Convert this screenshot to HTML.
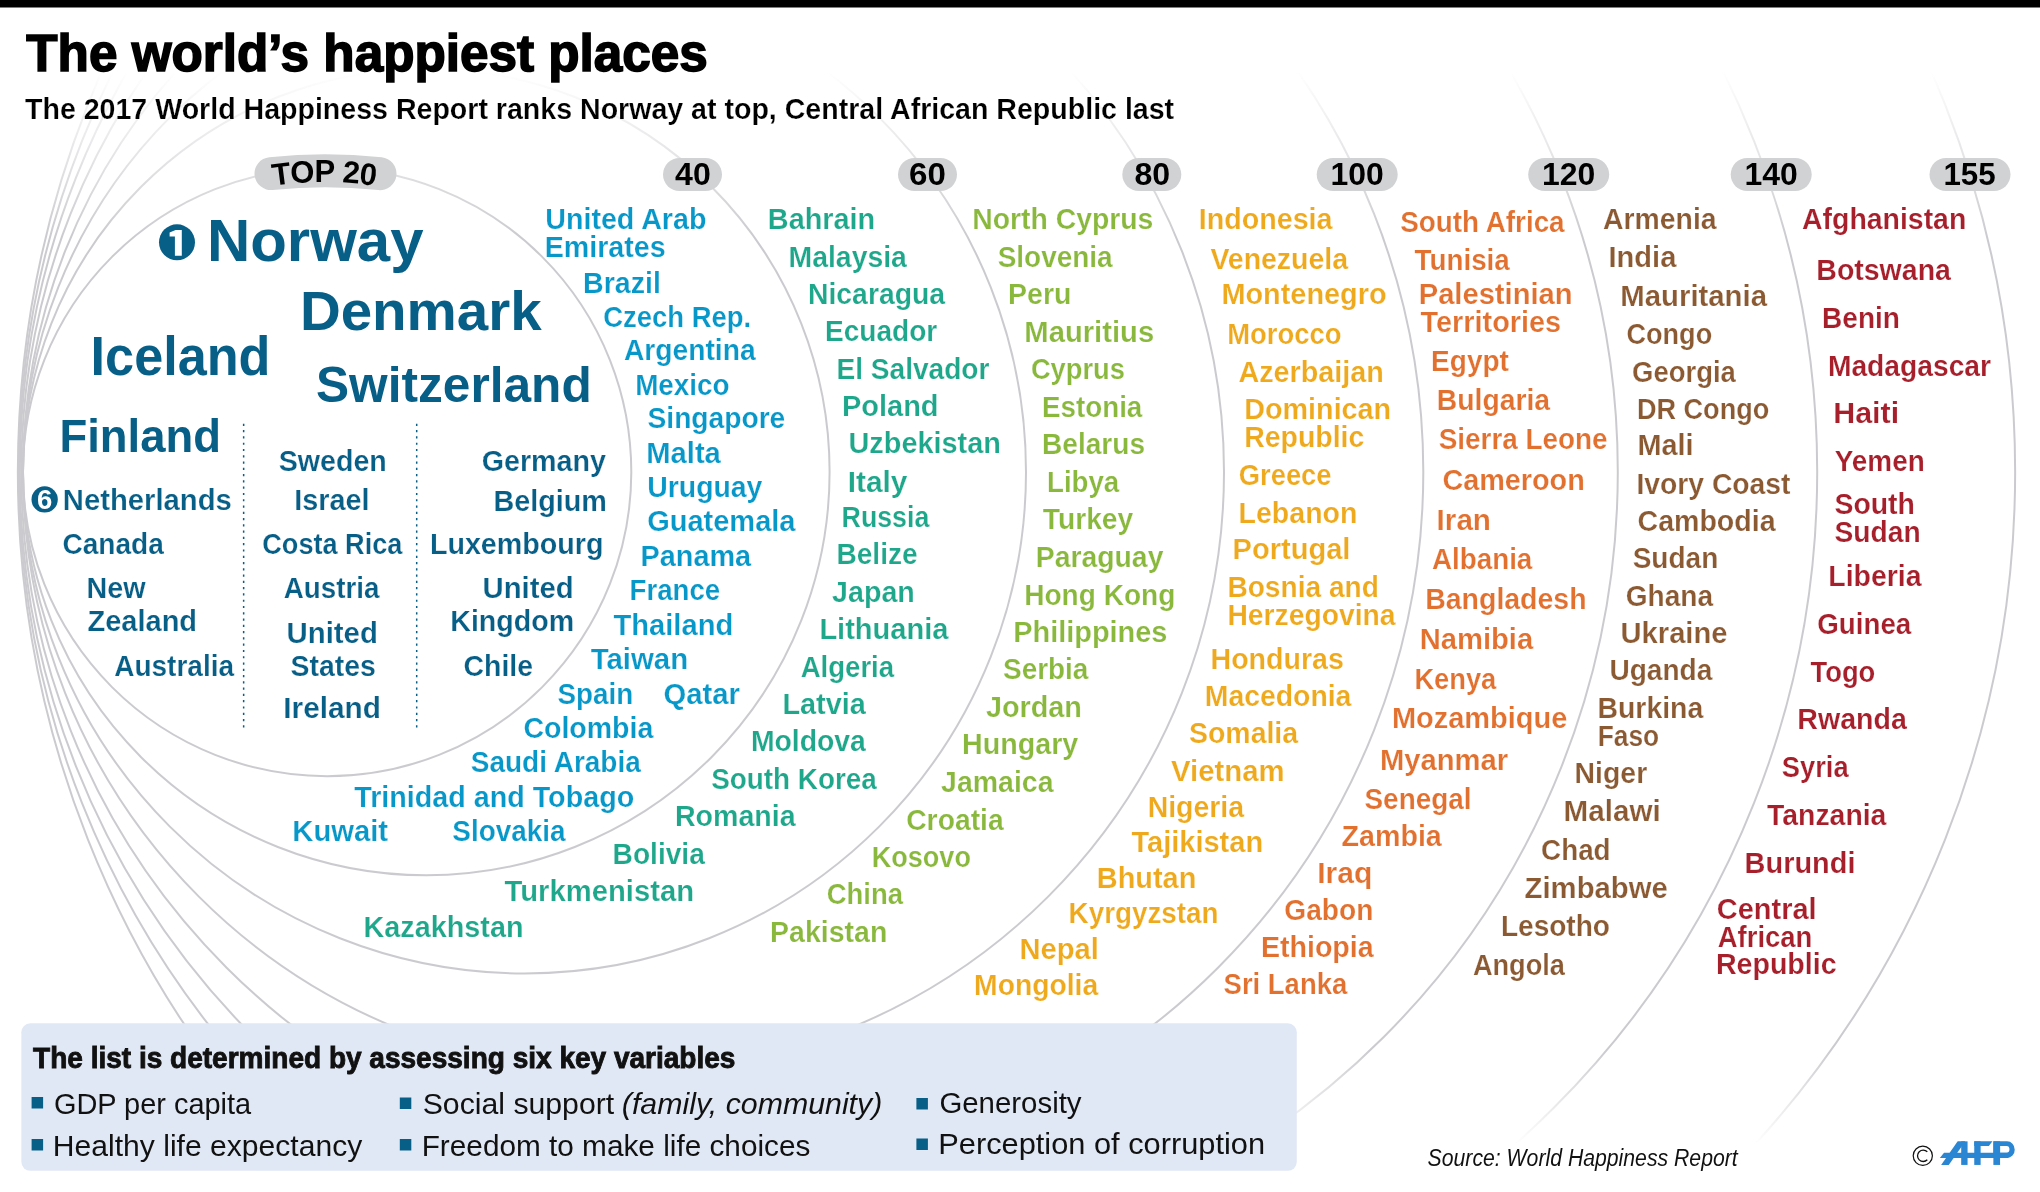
<!DOCTYPE html>
<html><head><meta charset="utf-8"><style>
html,body{margin:0;padding:0;background:#fff;}
svg{display:block;font-family:"Liberation Sans", sans-serif;will-change:transform;}
text.e{stroke:#fff;stroke-width:0.2px;}
</style></head><body>
<svg width="2040" height="1192" viewBox="0 0 2040 1192">
<defs>
<linearGradient id="fade" gradientUnits="userSpaceOnUse" x1="0" y1="0" x2="0" y2="1192">
<stop offset="0.06" stop-color="#cbcbcf" stop-opacity="0"/>
<stop offset="0.2" stop-color="#cbcbcf" stop-opacity="1"/>
<stop offset="0.88" stop-color="#cbcbcf" stop-opacity="1"/>
<stop offset="0.96" stop-color="#cbcbcf" stop-opacity="0"/>
</linearGradient>
</defs>
<rect x="0" y="0" width="2040" height="7.5" fill="#000"/>
<g fill="none" stroke="url(#fade)" stroke-width="2">
<circle cx="327.1" cy="472" r="304.2" />
<circle cx="426.3" cy="472" r="403.3" />
<circle cx="524.5" cy="472" r="501.5" />
<circle cx="623.5" cy="472" r="600.5" />
<circle cx="722.3" cy="472" r="701" />
<circle cx="818.8" cy="472" r="799" />
<circle cx="918.0" cy="472" r="899.2" />
<circle cx="1016.5" cy="472" r="998.65" />
</g>
<line x1="243.65" y1="423.8" x2="243.65" y2="731" stroke="#075e87" stroke-width="1.5" stroke-dasharray="2.2 4.08"/>
<line x1="416.7" y1="423.8" x2="416.7" y2="731" stroke="#075e87" stroke-width="1.5" stroke-dasharray="2.2 4.08"/>
<path d="M271,173.57 A528.5,528.5 0 0 1 380,173.67" fill="none" stroke="#d1d2d4" stroke-width="33" stroke-linecap="round"/>
<path id="tp" d="M223.2,197.84 A330,330 0 0 1 425.2,197.84" fill="none"/>
<text font-size="31" font-weight="bold" fill="#000" text-anchor="middle" letter-spacing="-0.6"><textPath href="#tp" startOffset="50%">TOP 20</textPath></text>
<rect x="663.0" y="158" width="59" height="33" rx="16.5" fill="#d1d2d4"/>
<text x="675.1" y="184.5" font-size="30.52" font-weight="bold" fill="#000" textLength="35.7" lengthAdjust="spacingAndGlyphs">40</text>
<rect x="898.0" y="158" width="59" height="33" rx="16.5" fill="#d1d2d4"/>
<text x="909.1" y="184.5" font-size="30.52" font-weight="bold" fill="#000" textLength="36.8" lengthAdjust="spacingAndGlyphs">60</text>
<rect x="1122.3" y="158" width="59" height="33" rx="16.5" fill="#d1d2d4"/>
<text x="1134.5" y="184.5" font-size="30.52" font-weight="bold" fill="#000" textLength="35.7" lengthAdjust="spacingAndGlyphs">80</text>
<rect x="1316.7" y="158" width="81" height="33" rx="16.5" fill="#d1d2d4"/>
<text x="1330.6" y="184.5" font-size="30.52" font-weight="bold" fill="#000" textLength="53.3" lengthAdjust="spacingAndGlyphs">100</text>
<rect x="1528.2" y="158" width="81" height="33" rx="16.5" fill="#d1d2d4"/>
<text x="1542.1" y="184.5" font-size="30.52" font-weight="bold" fill="#000" textLength="53.3" lengthAdjust="spacingAndGlyphs">120</text>
<rect x="1730.7" y="158" width="81" height="33" rx="16.5" fill="#d1d2d4"/>
<text x="1744.6" y="184.5" font-size="30.52" font-weight="bold" fill="#000" textLength="53.3" lengthAdjust="spacingAndGlyphs">140</text>
<rect x="1929.5" y="158" width="81" height="33" rx="16.5" fill="#d1d2d4"/>
<text x="1943.4" y="184.5" font-size="30.52" font-weight="bold" fill="#000" textLength="52.2" lengthAdjust="spacingAndGlyphs">155</text>
<circle cx="177" cy="242.3" r="18" fill="#075e87"/>
<path d="M169.6,232.6 L175.6,229.9 L181.8,229.9 L181.8,255.8 L174.9,255.8 L174.9,236.4 L169.6,236.4 Z" fill="#fff"/>
<circle cx="44.65" cy="499.45" r="13.15" fill="#075e87"/>
<text x="44.65" y="508.7" font-size="27.5" font-weight="bold" fill="#fff" text-anchor="middle">6</text>
<rect x="21.3" y="1023.3" width="1275.5" height="147.5" rx="9" fill="#e1e8f5"/>
<rect x="31.6" y="1097" width="11.5" height="11.5" fill="#075e87"/>
<rect x="31.6" y="1139" width="11.5" height="11.5" fill="#075e87"/>
<rect x="399.8" y="1097.5" width="11.5" height="11.5" fill="#075e87"/>
<rect x="399.8" y="1139" width="11.5" height="11.5" fill="#075e87"/>
<rect x="916.4" y="1098" width="11.5" height="11.5" fill="#075e87"/>
<rect x="916.4" y="1138.5" width="11.5" height="11.5" fill="#075e87"/>
<text x="206.9" y="261.3" font-size="58.58" font-weight="bold" fill="#075e87" textLength="216.6" lengthAdjust="spacingAndGlyphs">Norway</text>
<text x="299.9" y="330.0" font-size="55.23" font-weight="bold" fill="#075e87" textLength="241.8" lengthAdjust="spacingAndGlyphs">Denmark</text>
<text x="90.6" y="375.4" font-size="54.80" font-weight="bold" fill="#075e87" textLength="179.9" lengthAdjust="spacingAndGlyphs">Iceland</text>
<text x="316.0" y="402.0" font-size="49.42" font-weight="bold" fill="#075e87" textLength="275.7" lengthAdjust="spacingAndGlyphs">Switzerland</text>
<text x="59.4" y="451.9" font-size="46.95" font-weight="bold" fill="#075e87" textLength="161.5" lengthAdjust="spacingAndGlyphs">Finland</text>
<text class="e" x="62.8" y="510.2" font-size="30.23" font-weight="bold" fill="#075e87" textLength="169.0" lengthAdjust="spacingAndGlyphs">Netherlands</text>
<text class="e" x="62.4" y="554.1" font-size="30.23" font-weight="bold" fill="#075e87" textLength="101.4" lengthAdjust="spacingAndGlyphs">Canada</text>
<text class="e" x="86.5" y="598.4" font-size="30.23" font-weight="bold" fill="#075e87" textLength="59.1" lengthAdjust="spacingAndGlyphs">New</text>
<text class="e" x="87.5" y="630.6" font-size="30.23" font-weight="bold" fill="#075e87" textLength="109.6" lengthAdjust="spacingAndGlyphs">Zealand</text>
<text class="e" x="114.2" y="675.9" font-size="30.23" font-weight="bold" fill="#075e87" textLength="119.9" lengthAdjust="spacingAndGlyphs">Australia</text>
<text class="e" x="278.7" y="471.0" font-size="30.23" font-weight="bold" fill="#075e87" textLength="108.1" lengthAdjust="spacingAndGlyphs">Sweden</text>
<text class="e" x="294.3" y="510.2" font-size="30.23" font-weight="bold" fill="#075e87" textLength="75.3" lengthAdjust="spacingAndGlyphs">Israel</text>
<text class="e" x="262.3" y="554.1" font-size="30.23" font-weight="bold" fill="#075e87" textLength="140.0" lengthAdjust="spacingAndGlyphs">Costa Rica</text>
<text class="e" x="283.8" y="598.4" font-size="30.23" font-weight="bold" fill="#075e87" textLength="95.6" lengthAdjust="spacingAndGlyphs">Austria</text>
<text class="e" x="286.5" y="643.3" font-size="30.23" font-weight="bold" fill="#075e87" textLength="91.4" lengthAdjust="spacingAndGlyphs">United</text>
<text class="e" x="290.5" y="675.9" font-size="30.23" font-weight="bold" fill="#075e87" textLength="85.3" lengthAdjust="spacingAndGlyphs">States</text>
<text class="e" x="283.3" y="718.4" font-size="30.23" font-weight="bold" fill="#075e87" textLength="97.7" lengthAdjust="spacingAndGlyphs">Ireland</text>
<text class="e" x="481.7" y="471.3" font-size="30.23" font-weight="bold" fill="#075e87" textLength="124.2" lengthAdjust="spacingAndGlyphs">Germany</text>
<text class="e" x="493.4" y="510.6" font-size="30.23" font-weight="bold" fill="#075e87" textLength="113.5" lengthAdjust="spacingAndGlyphs">Belgium</text>
<text class="e" x="429.9" y="554.2" font-size="30.23" font-weight="bold" fill="#075e87" textLength="173.5" lengthAdjust="spacingAndGlyphs">Luxembourg</text>
<text class="e" x="482.5" y="598.4" font-size="30.23" font-weight="bold" fill="#075e87" textLength="91.2" lengthAdjust="spacingAndGlyphs">United</text>
<text class="e" x="450.3" y="630.6" font-size="30.23" font-weight="bold" fill="#075e87" textLength="123.8" lengthAdjust="spacingAndGlyphs">Kingdom</text>
<text class="e" x="463.5" y="675.9" font-size="30.23" font-weight="bold" fill="#075e87" textLength="69.5" lengthAdjust="spacingAndGlyphs">Chile</text>
<text class="e" x="545.3" y="229.1" font-size="30.23" font-weight="bold" fill="#0798c9" textLength="161.1" lengthAdjust="spacingAndGlyphs">United Arab</text>
<text class="e" x="544.7" y="256.9" font-size="30.23" font-weight="bold" fill="#0798c9" textLength="121.0" lengthAdjust="spacingAndGlyphs">Emirates</text>
<text class="e" x="583.1" y="293.1" font-size="30.23" font-weight="bold" fill="#0798c9" textLength="77.8" lengthAdjust="spacingAndGlyphs">Brazil</text>
<text class="e" x="603.2" y="326.7" font-size="30.23" font-weight="bold" fill="#0798c9" textLength="148.0" lengthAdjust="spacingAndGlyphs">Czech Rep.</text>
<text class="e" x="624.0" y="359.6" font-size="30.23" font-weight="bold" fill="#0798c9" textLength="131.6" lengthAdjust="spacingAndGlyphs">Argentina</text>
<text class="e" x="635.2" y="394.5" font-size="30.23" font-weight="bold" fill="#0798c9" textLength="94.3" lengthAdjust="spacingAndGlyphs">Mexico</text>
<text class="e" x="647.5" y="428.4" font-size="30.23" font-weight="bold" fill="#0798c9" textLength="137.8" lengthAdjust="spacingAndGlyphs">Singapore</text>
<text class="e" x="646.3" y="463.0" font-size="30.23" font-weight="bold" fill="#0798c9" textLength="74.5" lengthAdjust="spacingAndGlyphs">Malta</text>
<text class="e" x="647.3" y="497.3" font-size="30.23" font-weight="bold" fill="#0798c9" textLength="115.1" lengthAdjust="spacingAndGlyphs">Uruguay</text>
<text class="e" x="647.2" y="530.8" font-size="30.23" font-weight="bold" fill="#0798c9" textLength="148.3" lengthAdjust="spacingAndGlyphs">Guatemala</text>
<text class="e" x="640.5" y="566.4" font-size="30.23" font-weight="bold" fill="#0798c9" textLength="110.6" lengthAdjust="spacingAndGlyphs">Panama</text>
<text class="e" x="629.5" y="600.1" font-size="30.23" font-weight="bold" fill="#0798c9" textLength="90.7" lengthAdjust="spacingAndGlyphs">France</text>
<text class="e" x="613.4" y="634.8" font-size="30.23" font-weight="bold" fill="#0798c9" textLength="119.9" lengthAdjust="spacingAndGlyphs">Thailand</text>
<text class="e" x="590.7" y="669.3" font-size="30.23" font-weight="bold" fill="#0798c9" textLength="97.4" lengthAdjust="spacingAndGlyphs">Taiwan</text>
<text class="e" x="557.5" y="703.5" font-size="30.23" font-weight="bold" fill="#0798c9" textLength="75.7" lengthAdjust="spacingAndGlyphs">Spain</text>
<text class="e" x="663.6" y="703.5" font-size="30.23" font-weight="bold" fill="#0798c9" textLength="76.3" lengthAdjust="spacingAndGlyphs">Qatar</text>
<text class="e" x="523.4" y="738.2" font-size="30.23" font-weight="bold" fill="#0798c9" textLength="129.9" lengthAdjust="spacingAndGlyphs">Colombia</text>
<text class="e" x="470.8" y="772.4" font-size="30.23" font-weight="bold" fill="#0798c9" textLength="170.0" lengthAdjust="spacingAndGlyphs">Saudi Arabia</text>
<text class="e" x="354.2" y="806.9" font-size="30.23" font-weight="bold" fill="#0798c9" textLength="280.0" lengthAdjust="spacingAndGlyphs">Trinidad and Tobago</text>
<text class="e" x="292.3" y="840.7" font-size="30.23" font-weight="bold" fill="#0798c9" textLength="95.8" lengthAdjust="spacingAndGlyphs">Kuwait</text>
<text class="e" x="452.3" y="840.7" font-size="30.23" font-weight="bold" fill="#0798c9" textLength="113.2" lengthAdjust="spacingAndGlyphs">Slovakia</text>
<text class="e" x="767.8" y="228.9" font-size="30.23" font-weight="bold" fill="#1fa78c" textLength="107.4" lengthAdjust="spacingAndGlyphs">Bahrain</text>
<text class="e" x="788.5" y="266.6" font-size="30.23" font-weight="bold" fill="#1fa78c" textLength="118.4" lengthAdjust="spacingAndGlyphs">Malaysia</text>
<text class="e" x="808.0" y="303.8" font-size="30.23" font-weight="bold" fill="#1fa78c" textLength="137.1" lengthAdjust="spacingAndGlyphs">Nicaragua</text>
<text class="e" x="825.0" y="340.8" font-size="30.23" font-weight="bold" fill="#1fa78c" textLength="112.2" lengthAdjust="spacingAndGlyphs">Ecuador</text>
<text class="e" x="836.4" y="378.5" font-size="30.23" font-weight="bold" fill="#1fa78c" textLength="153.1" lengthAdjust="spacingAndGlyphs">El Salvador</text>
<text class="e" x="842.0" y="415.7" font-size="30.23" font-weight="bold" fill="#1fa78c" textLength="96.5" lengthAdjust="spacingAndGlyphs">Poland</text>
<text class="e" x="848.5" y="452.7" font-size="30.23" font-weight="bold" fill="#1fa78c" textLength="152.4" lengthAdjust="spacingAndGlyphs">Uzbekistan</text>
<text class="e" x="847.7" y="491.5" font-size="30.23" font-weight="bold" fill="#1fa78c" textLength="59.7" lengthAdjust="spacingAndGlyphs">Italy</text>
<text class="e" x="841.6" y="527.4" font-size="30.23" font-weight="bold" fill="#1fa78c" textLength="87.7" lengthAdjust="spacingAndGlyphs">Russia</text>
<text class="e" x="836.5" y="564.4" font-size="30.23" font-weight="bold" fill="#1fa78c" textLength="81.1" lengthAdjust="spacingAndGlyphs">Belize</text>
<text class="e" x="832.1" y="602.2" font-size="30.23" font-weight="bold" fill="#1fa78c" textLength="82.7" lengthAdjust="spacingAndGlyphs">Japan</text>
<text class="e" x="819.4" y="639.2" font-size="30.23" font-weight="bold" fill="#1fa78c" textLength="129.0" lengthAdjust="spacingAndGlyphs">Lithuania</text>
<text class="e" x="800.7" y="676.9" font-size="30.23" font-weight="bold" fill="#1fa78c" textLength="93.4" lengthAdjust="spacingAndGlyphs">Algeria</text>
<text class="e" x="782.4" y="714.2" font-size="30.23" font-weight="bold" fill="#1fa78c" textLength="83.5" lengthAdjust="spacingAndGlyphs">Latvia</text>
<text class="e" x="750.9" y="751.4" font-size="30.23" font-weight="bold" fill="#1fa78c" textLength="115.0" lengthAdjust="spacingAndGlyphs">Moldova</text>
<text class="e" x="711.2" y="789.2" font-size="30.23" font-weight="bold" fill="#1fa78c" textLength="165.6" lengthAdjust="spacingAndGlyphs">South Korea</text>
<text class="e" x="674.9" y="826.4" font-size="30.23" font-weight="bold" fill="#1fa78c" textLength="120.8" lengthAdjust="spacingAndGlyphs">Romania</text>
<text class="e" x="612.6" y="863.8" font-size="30.23" font-weight="bold" fill="#1fa78c" textLength="92.2" lengthAdjust="spacingAndGlyphs">Bolivia</text>
<text class="e" x="504.6" y="900.7" font-size="30.23" font-weight="bold" fill="#1fa78c" textLength="189.4" lengthAdjust="spacingAndGlyphs">Turkmenistan</text>
<text class="e" x="363.6" y="936.6" font-size="30.23" font-weight="bold" fill="#1fa78c" textLength="159.9" lengthAdjust="spacingAndGlyphs">Kazakhstan</text>
<text class="e" x="972.2" y="228.9" font-size="30.23" font-weight="bold" fill="#89b83d" textLength="181.2" lengthAdjust="spacingAndGlyphs">North Cyprus</text>
<text class="e" x="997.7" y="266.6" font-size="30.23" font-weight="bold" fill="#89b83d" textLength="114.9" lengthAdjust="spacingAndGlyphs">Slovenia</text>
<text class="e" x="1008.0" y="304.3" font-size="30.23" font-weight="bold" fill="#89b83d" textLength="63.4" lengthAdjust="spacingAndGlyphs">Peru</text>
<text class="e" x="1024.3" y="342.0" font-size="30.23" font-weight="bold" fill="#89b83d" textLength="129.9" lengthAdjust="spacingAndGlyphs">Mauritius</text>
<text class="e" x="1030.9" y="379.3" font-size="30.23" font-weight="bold" fill="#89b83d" textLength="94.0" lengthAdjust="spacingAndGlyphs">Cyprus</text>
<text class="e" x="1042.1" y="416.7" font-size="30.23" font-weight="bold" fill="#89b83d" textLength="100.2" lengthAdjust="spacingAndGlyphs">Estonia</text>
<text class="e" x="1042.0" y="453.9" font-size="30.23" font-weight="bold" fill="#89b83d" textLength="103.1" lengthAdjust="spacingAndGlyphs">Belarus</text>
<text class="e" x="1047.0" y="492.2" font-size="30.23" font-weight="bold" fill="#89b83d" textLength="72.2" lengthAdjust="spacingAndGlyphs">Libya</text>
<text class="e" x="1042.8" y="529.2" font-size="30.23" font-weight="bold" fill="#89b83d" textLength="90.4" lengthAdjust="spacingAndGlyphs">Turkey</text>
<text class="e" x="1035.8" y="567.0" font-size="30.23" font-weight="bold" fill="#89b83d" textLength="127.6" lengthAdjust="spacingAndGlyphs">Paraguay</text>
<text class="e" x="1024.2" y="604.7" font-size="30.23" font-weight="bold" fill="#89b83d" textLength="151.2" lengthAdjust="spacingAndGlyphs">Hong Kong</text>
<text class="e" x="1013.2" y="641.7" font-size="30.23" font-weight="bold" fill="#89b83d" textLength="154.2" lengthAdjust="spacingAndGlyphs">Philippines</text>
<text class="e" x="1003.0" y="679.0" font-size="30.23" font-weight="bold" fill="#89b83d" textLength="85.4" lengthAdjust="spacingAndGlyphs">Serbia</text>
<text class="e" x="985.9" y="716.7" font-size="30.23" font-weight="bold" fill="#89b83d" textLength="96.0" lengthAdjust="spacingAndGlyphs">Jordan</text>
<text class="e" x="962.1" y="754.0" font-size="30.23" font-weight="bold" fill="#89b83d" textLength="116.2" lengthAdjust="spacingAndGlyphs">Hungary</text>
<text class="e" x="941.1" y="791.6" font-size="30.23" font-weight="bold" fill="#89b83d" textLength="112.4" lengthAdjust="spacingAndGlyphs">Jamaica</text>
<text class="e" x="906.2" y="829.5" font-size="30.23" font-weight="bold" fill="#89b83d" textLength="97.5" lengthAdjust="spacingAndGlyphs">Croatia</text>
<text class="e" x="871.8" y="866.8" font-size="30.23" font-weight="bold" fill="#89b83d" textLength="99.1" lengthAdjust="spacingAndGlyphs">Kosovo</text>
<text class="e" x="826.7" y="904.4" font-size="30.23" font-weight="bold" fill="#89b83d" textLength="76.3" lengthAdjust="spacingAndGlyphs">China</text>
<text class="e" x="770.1" y="941.5" font-size="30.23" font-weight="bold" fill="#89b83d" textLength="117.2" lengthAdjust="spacingAndGlyphs">Pakistan</text>
<text class="e" x="1198.8" y="228.9" font-size="30.23" font-weight="bold" fill="#efa91c" textLength="133.7" lengthAdjust="spacingAndGlyphs">Indonesia</text>
<text class="e" x="1210.4" y="269.0" font-size="30.23" font-weight="bold" fill="#efa91c" textLength="137.7" lengthAdjust="spacingAndGlyphs">Venezuela</text>
<text class="e" x="1221.4" y="304.3" font-size="30.23" font-weight="bold" fill="#efa91c" textLength="165.2" lengthAdjust="spacingAndGlyphs">Montenegro</text>
<text class="e" x="1227.3" y="343.7" font-size="30.23" font-weight="bold" fill="#efa91c" textLength="114.1" lengthAdjust="spacingAndGlyphs">Morocco</text>
<text class="e" x="1238.4" y="381.7" font-size="30.23" font-weight="bold" fill="#efa91c" textLength="145.4" lengthAdjust="spacingAndGlyphs">Azerbaijan</text>
<text class="e" x="1244.3" y="418.6" font-size="30.23" font-weight="bold" fill="#efa91c" textLength="146.8" lengthAdjust="spacingAndGlyphs">Dominican</text>
<text class="e" x="1244.3" y="446.6" font-size="30.23" font-weight="bold" fill="#efa91c" textLength="120.0" lengthAdjust="spacingAndGlyphs">Republic</text>
<text class="e" x="1238.8" y="484.6" font-size="30.23" font-weight="bold" fill="#efa91c" textLength="92.7" lengthAdjust="spacingAndGlyphs">Greece</text>
<text class="e" x="1238.6" y="522.8" font-size="30.23" font-weight="bold" fill="#efa91c" textLength="118.8" lengthAdjust="spacingAndGlyphs">Lebanon</text>
<text class="e" x="1232.6" y="559.3" font-size="30.23" font-weight="bold" fill="#efa91c" textLength="117.8" lengthAdjust="spacingAndGlyphs">Portugal</text>
<text class="e" x="1227.4" y="597.0" font-size="30.23" font-weight="bold" fill="#efa91c" textLength="151.5" lengthAdjust="spacingAndGlyphs">Bosnia and</text>
<text class="e" x="1227.4" y="624.8" font-size="30.23" font-weight="bold" fill="#efa91c" textLength="168.2" lengthAdjust="spacingAndGlyphs">Herzegovina</text>
<text class="e" x="1210.5" y="668.5" font-size="30.23" font-weight="bold" fill="#efa91c" textLength="133.3" lengthAdjust="spacingAndGlyphs">Honduras</text>
<text class="e" x="1204.8" y="706.2" font-size="30.23" font-weight="bold" fill="#efa91c" textLength="146.6" lengthAdjust="spacingAndGlyphs">Macedonia</text>
<text class="e" x="1189.0" y="743.4" font-size="30.23" font-weight="bold" fill="#efa91c" textLength="109.1" lengthAdjust="spacingAndGlyphs">Somalia</text>
<text class="e" x="1171.1" y="781.2" font-size="30.23" font-weight="bold" fill="#efa91c" textLength="113.5" lengthAdjust="spacingAndGlyphs">Vietnam</text>
<text class="e" x="1147.7" y="816.5" font-size="30.23" font-weight="bold" fill="#efa91c" textLength="96.4" lengthAdjust="spacingAndGlyphs">Nigeria</text>
<text class="e" x="1131.5" y="852.1" font-size="30.23" font-weight="bold" fill="#efa91c" textLength="131.6" lengthAdjust="spacingAndGlyphs">Tajikistan</text>
<text class="e" x="1096.8" y="887.6" font-size="30.23" font-weight="bold" fill="#efa91c" textLength="99.5" lengthAdjust="spacingAndGlyphs">Bhutan</text>
<text class="e" x="1068.6" y="923.4" font-size="30.23" font-weight="bold" fill="#efa91c" textLength="149.9" lengthAdjust="spacingAndGlyphs">Kyrgyzstan</text>
<text class="e" x="1019.4" y="958.6" font-size="30.23" font-weight="bold" fill="#efa91c" textLength="79.4" lengthAdjust="spacingAndGlyphs">Nepal</text>
<text class="e" x="974.1" y="994.8" font-size="30.23" font-weight="bold" fill="#efa91c" textLength="124.0" lengthAdjust="spacingAndGlyphs">Mongolia</text>
<text class="e" x="1400.2" y="231.9" font-size="30.23" font-weight="bold" fill="#e2702f" textLength="164.4" lengthAdjust="spacingAndGlyphs">South Africa</text>
<text class="e" x="1414.5" y="269.7" font-size="30.23" font-weight="bold" fill="#e2702f" textLength="95.3" lengthAdjust="spacingAndGlyphs">Tunisia</text>
<text class="e" x="1418.7" y="304.4" font-size="30.23" font-weight="bold" fill="#e2702f" textLength="153.9" lengthAdjust="spacingAndGlyphs">Palestinian</text>
<text class="e" x="1420.6" y="332.2" font-size="30.23" font-weight="bold" fill="#e2702f" textLength="140.5" lengthAdjust="spacingAndGlyphs">Territories</text>
<text class="e" x="1431.1" y="370.7" font-size="30.23" font-weight="bold" fill="#e2702f" textLength="77.8" lengthAdjust="spacingAndGlyphs">Egypt</text>
<text class="e" x="1436.8" y="410.1" font-size="30.23" font-weight="bold" fill="#e2702f" textLength="113.3" lengthAdjust="spacingAndGlyphs">Bulgaria</text>
<text class="e" x="1438.7" y="449.3" font-size="30.23" font-weight="bold" fill="#e2702f" textLength="168.9" lengthAdjust="spacingAndGlyphs">Sierra Leone</text>
<text class="e" x="1442.4" y="490.1" font-size="30.23" font-weight="bold" fill="#e2702f" textLength="142.4" lengthAdjust="spacingAndGlyphs">Cameroon</text>
<text class="e" x="1436.6" y="529.8" font-size="30.23" font-weight="bold" fill="#e2702f" textLength="54.4" lengthAdjust="spacingAndGlyphs">Iran</text>
<text class="e" x="1432.0" y="569.2" font-size="30.23" font-weight="bold" fill="#e2702f" textLength="100.3" lengthAdjust="spacingAndGlyphs">Albania</text>
<text class="e" x="1425.2" y="609.3" font-size="30.23" font-weight="bold" fill="#e2702f" textLength="161.4" lengthAdjust="spacingAndGlyphs">Bangladesh</text>
<text class="e" x="1419.7" y="648.9" font-size="30.23" font-weight="bold" fill="#e2702f" textLength="113.5" lengthAdjust="spacingAndGlyphs">Namibia</text>
<text class="e" x="1414.4" y="688.8" font-size="30.23" font-weight="bold" fill="#e2702f" textLength="81.9" lengthAdjust="spacingAndGlyphs">Kenya</text>
<text class="e" x="1391.9" y="728.4" font-size="30.23" font-weight="bold" fill="#e2702f" textLength="175.4" lengthAdjust="spacingAndGlyphs">Mozambique</text>
<text class="e" x="1380.0" y="769.5" font-size="30.23" font-weight="bold" fill="#e2702f" textLength="128.1" lengthAdjust="spacingAndGlyphs">Myanmar</text>
<text class="e" x="1364.5" y="808.7" font-size="30.23" font-weight="bold" fill="#e2702f" textLength="107.0" lengthAdjust="spacingAndGlyphs">Senegal</text>
<text class="e" x="1341.5" y="845.5" font-size="30.23" font-weight="bold" fill="#e2702f" textLength="100.3" lengthAdjust="spacingAndGlyphs">Zambia</text>
<text class="e" x="1317.2" y="883.1" font-size="30.23" font-weight="bold" fill="#e2702f" textLength="55.1" lengthAdjust="spacingAndGlyphs">Iraq</text>
<text class="e" x="1284.3" y="920.2" font-size="30.23" font-weight="bold" fill="#e2702f" textLength="89.1" lengthAdjust="spacingAndGlyphs">Gabon</text>
<text class="e" x="1260.9" y="956.6" font-size="30.23" font-weight="bold" fill="#e2702f" textLength="112.8" lengthAdjust="spacingAndGlyphs">Ethiopia</text>
<text class="e" x="1223.6" y="994.2" font-size="30.23" font-weight="bold" fill="#e2702f" textLength="123.6" lengthAdjust="spacingAndGlyphs">Sri Lanka</text>
<text class="e" x="1603.1" y="228.5" font-size="30.23" font-weight="bold" fill="#8b5a33" textLength="113.5" lengthAdjust="spacingAndGlyphs">Armenia</text>
<text class="e" x="1608.5" y="267.0" font-size="30.23" font-weight="bold" fill="#8b5a33" textLength="67.8" lengthAdjust="spacingAndGlyphs">India</text>
<text class="e" x="1620.3" y="305.5" font-size="30.23" font-weight="bold" fill="#8b5a33" textLength="146.7" lengthAdjust="spacingAndGlyphs">Mauritania</text>
<text class="e" x="1626.5" y="344.0" font-size="30.23" font-weight="bold" fill="#8b5a33" textLength="85.7" lengthAdjust="spacingAndGlyphs">Congo</text>
<text class="e" x="1632.1" y="382.0" font-size="30.23" font-weight="bold" fill="#8b5a33" textLength="103.7" lengthAdjust="spacingAndGlyphs">Georgia</text>
<text class="e" x="1636.9" y="419.1" font-size="30.23" font-weight="bold" fill="#8b5a33" textLength="132.4" lengthAdjust="spacingAndGlyphs">DR Congo</text>
<text class="e" x="1637.5" y="455.4" font-size="30.23" font-weight="bold" fill="#8b5a33" textLength="56.1" lengthAdjust="spacingAndGlyphs">Mali</text>
<text class="e" x="1636.5" y="494.2" font-size="30.23" font-weight="bold" fill="#8b5a33" textLength="154.0" lengthAdjust="spacingAndGlyphs">Ivory Coast</text>
<text class="e" x="1637.5" y="530.6" font-size="30.23" font-weight="bold" fill="#8b5a33" textLength="138.1" lengthAdjust="spacingAndGlyphs">Cambodia</text>
<text class="e" x="1632.7" y="568.3" font-size="30.23" font-weight="bold" fill="#8b5a33" textLength="85.6" lengthAdjust="spacingAndGlyphs">Sudan</text>
<text class="e" x="1625.8" y="606.0" font-size="30.23" font-weight="bold" fill="#8b5a33" textLength="87.3" lengthAdjust="spacingAndGlyphs">Ghana</text>
<text class="e" x="1620.5" y="642.9" font-size="30.23" font-weight="bold" fill="#8b5a33" textLength="107.0" lengthAdjust="spacingAndGlyphs">Ukraine</text>
<text class="e" x="1609.4" y="680.1" font-size="30.23" font-weight="bold" fill="#8b5a33" textLength="102.9" lengthAdjust="spacingAndGlyphs">Uganda</text>
<text class="e" x="1597.5" y="717.8" font-size="30.23" font-weight="bold" fill="#8b5a33" textLength="105.7" lengthAdjust="spacingAndGlyphs">Burkina</text>
<text class="e" x="1597.7" y="745.9" font-size="30.23" font-weight="bold" fill="#8b5a33" textLength="61.4" lengthAdjust="spacingAndGlyphs">Faso</text>
<text class="e" x="1574.6" y="783.2" font-size="30.23" font-weight="bold" fill="#8b5a33" textLength="72.6" lengthAdjust="spacingAndGlyphs">Niger</text>
<text class="e" x="1563.6" y="821.1" font-size="30.23" font-weight="bold" fill="#8b5a33" textLength="97.1" lengthAdjust="spacingAndGlyphs">Malawi</text>
<text class="e" x="1541.1" y="859.5" font-size="30.23" font-weight="bold" fill="#8b5a33" textLength="69.5" lengthAdjust="spacingAndGlyphs">Chad</text>
<text class="e" x="1524.6" y="897.5" font-size="30.23" font-weight="bold" fill="#8b5a33" textLength="143.2" lengthAdjust="spacingAndGlyphs">Zimbabwe</text>
<text class="e" x="1500.9" y="935.9" font-size="30.23" font-weight="bold" fill="#8b5a33" textLength="109.1" lengthAdjust="spacingAndGlyphs">Lesotho</text>
<text class="e" x="1472.9" y="974.5" font-size="30.23" font-weight="bold" fill="#8b5a33" textLength="92.1" lengthAdjust="spacingAndGlyphs">Angola</text>
<text class="e" x="1802.1" y="229.0" font-size="30.23" font-weight="bold" fill="#a61f2b" textLength="164.2" lengthAdjust="spacingAndGlyphs">Afghanistan</text>
<text class="e" x="1816.3" y="280.1" font-size="30.23" font-weight="bold" fill="#a61f2b" textLength="134.6" lengthAdjust="spacingAndGlyphs">Botswana</text>
<text class="e" x="1822.1" y="327.9" font-size="30.23" font-weight="bold" fill="#a61f2b" textLength="77.9" lengthAdjust="spacingAndGlyphs">Benin</text>
<text class="e" x="1827.9" y="376.2" font-size="30.23" font-weight="bold" fill="#a61f2b" textLength="163.1" lengthAdjust="spacingAndGlyphs">Madagascar</text>
<text class="e" x="1833.3" y="422.7" font-size="30.23" font-weight="bold" fill="#a61f2b" textLength="65.8" lengthAdjust="spacingAndGlyphs">Haiti</text>
<text class="e" x="1834.8" y="470.5" font-size="30.23" font-weight="bold" fill="#a61f2b" textLength="89.9" lengthAdjust="spacingAndGlyphs">Yemen</text>
<text class="e" x="1834.5" y="513.8" font-size="30.23" font-weight="bold" fill="#a61f2b" textLength="80.4" lengthAdjust="spacingAndGlyphs">South</text>
<text class="e" x="1834.5" y="542.2" font-size="30.23" font-weight="bold" fill="#a61f2b" textLength="86.1" lengthAdjust="spacingAndGlyphs">Sudan</text>
<text class="e" x="1828.3" y="585.8" font-size="30.23" font-weight="bold" fill="#a61f2b" textLength="93.3" lengthAdjust="spacingAndGlyphs">Liberia</text>
<text class="e" x="1817.3" y="633.8" font-size="30.23" font-weight="bold" fill="#a61f2b" textLength="93.9" lengthAdjust="spacingAndGlyphs">Guinea</text>
<text class="e" x="1810.5" y="681.8" font-size="30.23" font-weight="bold" fill="#a61f2b" textLength="64.8" lengthAdjust="spacingAndGlyphs">Togo</text>
<text class="e" x="1797.3" y="729.2" font-size="30.23" font-weight="bold" fill="#a61f2b" textLength="109.5" lengthAdjust="spacingAndGlyphs">Rwanda</text>
<text class="e" x="1781.8" y="777.3" font-size="30.23" font-weight="bold" fill="#a61f2b" textLength="66.8" lengthAdjust="spacingAndGlyphs">Syria</text>
<text class="e" x="1767.1" y="824.9" font-size="30.23" font-weight="bold" fill="#a61f2b" textLength="119.3" lengthAdjust="spacingAndGlyphs">Tanzania</text>
<text class="e" x="1744.6" y="872.5" font-size="30.23" font-weight="bold" fill="#a61f2b" textLength="110.9" lengthAdjust="spacingAndGlyphs">Burundi</text>
<text class="e" x="1716.8" y="918.6" font-size="30.23" font-weight="bold" fill="#a61f2b" textLength="99.8" lengthAdjust="spacingAndGlyphs">Central</text>
<text class="e" x="1717.8" y="946.5" font-size="30.23" font-weight="bold" fill="#a61f2b" textLength="94.6" lengthAdjust="spacingAndGlyphs">African</text>
<text class="e" x="1715.9" y="974.4" font-size="30.23" font-weight="bold" fill="#a61f2b" textLength="120.7" lengthAdjust="spacingAndGlyphs">Republic</text>
<text x="26.3" y="71.4" font-size="51.89" font-weight="bold" fill="#000" stroke="#000" stroke-width="1.6" textLength="681.5" lengthAdjust="spacingAndGlyphs">The world’s happiest places</text>
<text x="25.0" y="118.8" font-size="29.36" font-weight="bold" fill="#000" class="e" textLength="1149.1" lengthAdjust="spacingAndGlyphs">The 2017 World Happiness Report ranks Norway at top, Central African Republic last</text>
<text x="33.1" y="1068.0" font-size="29.22" font-weight="bold" fill="#111" stroke="#111" stroke-width="0.9" textLength="702.3" lengthAdjust="spacingAndGlyphs">The list is determined by assessing six key variables</text>
<text x="53.9" y="1113.9" font-size="28.78" fill="#111" textLength="197.3" lengthAdjust="spacingAndGlyphs">GDP per capita</text>
<text x="52.8" y="1156.1" font-size="28.78" fill="#111" textLength="309.5" lengthAdjust="spacingAndGlyphs">Healthy life expectancy</text>
<text x="939.4" y="1112.7" font-size="28.78" fill="#111" textLength="142.2" lengthAdjust="spacingAndGlyphs">Generosity</text>
<text x="938.3" y="1153.8" font-size="28.78" fill="#111" textLength="326.8" lengthAdjust="spacingAndGlyphs">Perception of corruption</text>
<text x="421.7" y="1156.1" font-size="28.78" fill="#111" textLength="388.7" lengthAdjust="spacingAndGlyphs">Freedom to make life choices</text>
<text x="422.7" y="1113.9" font-size="28.78" fill="#111" textLength="191.5" lengthAdjust="spacingAndGlyphs">Social support</text>
<text x="621.8" y="1113.9" font-size="28.78" font-style="italic" fill="#111" textLength="260.5" lengthAdjust="spacingAndGlyphs">(family, community)</text>
<text x="1427.6" y="1165.5" font-size="24.13" font-style="italic" fill="#111" textLength="310.1" lengthAdjust="spacingAndGlyphs">Source: World Happiness Report</text>
<circle cx="1922.8" cy="1155.8" r="9.6" fill="none" stroke="#111" stroke-width="1.2"/>
<path d="M1927.3,1151.8 A5.7,5.7 0 1 0 1927.3,1159.8" fill="none" stroke="#111" stroke-width="1.3"/>
<g fill="#2a86d2" transform="translate(1900,1130) scale(0.06374)">
<polygon points="625,440 690,355 1700,355 1700,440"/>
<polygon points="645,548 765,548 1025,178 905,178"/>
<rect x="960" y="178" width="100" height="370"/>
<rect x="1165" y="178" width="100" height="370"/>
<polygon points="1165,178 1450,178 1395,250 1165,250"/>
<rect x="1465" y="178" width="105" height="370"/>
<path d="M1465,178 L1680,178 A120,131 0 0 1 1680,440 L1465,440 Z M1570,250 L1570,355 L1672,355 A45,52 0 0 0 1672,250 Z" fill-rule="evenodd"/>
</g>
</svg>
</body></html>
